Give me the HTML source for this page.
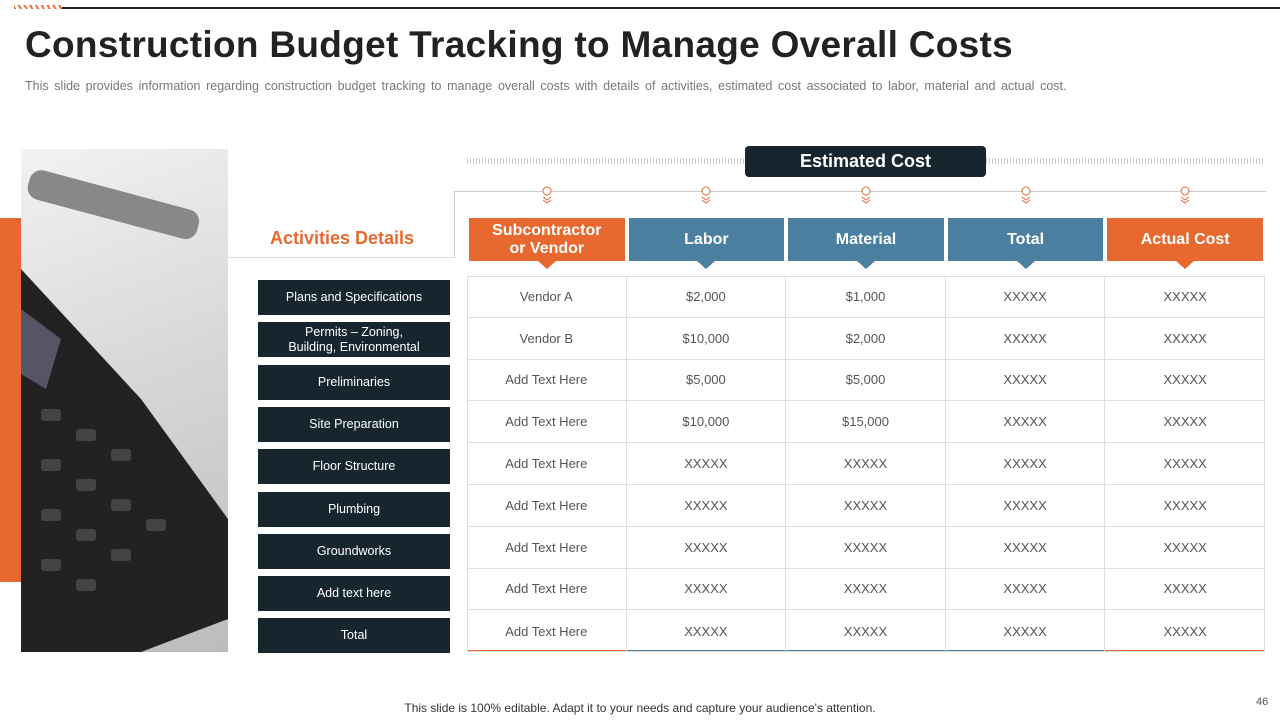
<!DOCTYPE html>
<html><head><meta charset="utf-8"><style>
body{margin:0;width:1280px;height:720px;position:relative;background:#fff;font-family:"Liberation Sans",sans-serif;overflow:hidden}
.abs{position:absolute}
.act{position:absolute;left:258px;width:192px;background:#17252f;color:#fff;font-size:12.5px;display:flex;align-items:center;justify-content:center;text-align:center;line-height:15px}
.hd{position:absolute;top:218px;height:43px;color:#fff;font-weight:bold;font-size:16px;display:flex;align-items:center;justify-content:center;text-align:center;line-height:18px}
.tri{position:absolute;top:261px;width:0;height:0;border-left:9px solid transparent;border-right:9px solid transparent;border-top:8px solid}
.cell{position:absolute;font-size:13px;color:#555;display:flex;align-items:center;justify-content:center}
</style></head><body>
<div class="abs" style="left:60px;top:7px;width:1220px;height:2px;background:#17252f"></div>
<div class="abs" style="left:14px;top:5px;width:48px;height:4px;background:repeating-linear-gradient(60deg,#e8743a 0 2px,#fff 2px 5px)"></div>
<div class="abs" style="left:25px;top:24px;font-size:37px;font-weight:bold;color:#222;letter-spacing:0.3px">Construction Budget Tracking to Manage Overall Costs</div>
<div class="abs" style="left:25px;top:79px;font-size:12.5px;color:#777;word-spacing:2.2px">This slide provides information regarding construction budget tracking to manage overall costs with details of activities, estimated cost associated to labor, material and actual cost.</div>

<div class="abs" style="left:0;top:218px;width:21px;height:364px;background:#e8692f"></div>
<div class="abs" style="left:21px;top:149px;width:207px;height:503px;background:linear-gradient(160deg,#f2f2f2 0%,#d8d8d8 45%,#bcbcbc 100%);overflow:hidden">
<svg width="207" height="503"><rect x="5" y="40" width="175" height="30" rx="12" fill="#888" transform="rotate(15 90 55)"/><path d="M0 120 L120 250 L207 370 L207 470 L120 503 L0 503 Z" fill="#222"/><path d="M0 160 L40 190 L25 240 L0 225Z" fill="#556"/>
<g fill="#444"><rect x="20" y="260" width="20" height="12" rx="3"/><rect x="55" y="280" width="20" height="12" rx="3"/><rect x="90" y="300" width="20" height="12" rx="3"/><rect x="20" y="310" width="20" height="12" rx="3"/><rect x="55" y="330" width="20" height="12" rx="3"/><rect x="90" y="350" width="20" height="12" rx="3"/><rect x="125" y="370" width="20" height="12" rx="3"/><rect x="20" y="360" width="20" height="12" rx="3"/><rect x="55" y="380" width="20" height="12" rx="3"/><rect x="90" y="400" width="20" height="12" rx="3"/><rect x="20" y="410" width="20" height="12" rx="3"/><rect x="55" y="430" width="20" height="12" rx="3"/></g></svg></div>

<div class="abs" style="left:228px;top:228px;width:228px;text-align:center;font-size:18px;font-weight:bold;color:#e8692f">Activities Details</div>
<div class="abs" style="left:228px;top:257px;width:226px;height:1px;background:#ddd"></div>
<div class="abs" style="left:454px;top:191px;width:811px;height:66px;border-left:1px solid #ccc;border-top:1px solid #ccc"></div>
<div class="abs" style="left:467px;top:158px;width:798px;height:6px;background:repeating-linear-gradient(90deg,#ccc 0 1px,transparent 1px 3px)"></div>
<div class="abs" style="left:745px;top:146px;width:241px;height:31px;background:#17252f;border-radius:4px;color:#fff;font-weight:bold;font-size:18px;display:flex;align-items:center;justify-content:center">Estimated Cost</div>

<div id="acts"></div><div id="tbl"></div>
<div class="abs" style="left:0;width:1280px;top:701px;text-align:center;font-size:12px;color:#333">This slide is 100% editable. Adapt it to your needs and capture your audience's attention.</div>
<div class="abs" style="left:1256px;top:696px;font-size:11px;color:#555">46</div>
<script>
const activities=["Plans and Specifications","Permits – Zoning,<br>Building, Environmental","Preliminaries","Site Preparation","Floor Structure","Plumbing","Groundworks","Add text here","Total"];
const headers=["Subcontractor<br>or Vendor","Labor","Material","Total","Actual Cost"];
const hcolors=["#e8692f","#4a7fa0","#4a7fa0","#4a7fa0","#e8692f"];
const vendor=["Vendor A","Vendor B","Add Text Here","Add Text Here","Add Text Here","Add Text Here","Add Text Here","Add Text Here","Add Text Here"];
const labor=["$2,000","$10,000","$5,000","$10,000","XXXXX","XXXXX","XXXXX","XXXXX","XXXXX"];
const material=["$1,000","$2,000","$5,000","$15,000","XXXXX","XXXXX","XXXXX","XXXXX","XXXXX"];
const total=["XXXXX","XXXXX","XXXXX","XXXXX","XXXXX","XXXXX","XXXXX","XXXXX","XXXXX"];
const actual=["XXXXX","XXXXX","XXXXX","XXXXX","XXXXX","XXXXX","XXXXX","XXXXX","XXXXX"];
const cols=[vendor,labor,material,total,actual];
const X0=467,CW=159.6,Y0=276,RH=41.8;
const A=document.getElementById('acts'),T=document.getElementById('tbl');
activities.forEach((a,i)=>{const d=document.createElement('div');d.className='act';


d.style.top=(280+i*42.3)+'px';d.style.height='35px';d.innerHTML=a;A.appendChild(d);});
headers.forEach((h,c)=>{const x=X0+c*CW;const d=document.createElement('div');d.className='hd';


d.style.left=(x+2)+'px';d.style.width=(CW-4)+'px';d.style.background=hcolors[c];d.innerHTML=h;T.appendChild(d);
const t=document.createElement('div');t.className='tri';t.style.left=(x+CW/2-9)+'px';t.style.borderTopColor=hcolors[c];T.appendChild(t);
const ic=document.createElement('div');ic.className='abs';


ic.style.left=(x+CW/2-5)+'px';ic.style.top='186px';ic.innerHTML='<svg width="10" height="18"><circle cx="5" cy="5" r="4" fill="#fff" stroke="#e8692f"/><path d="M1 11 L5 14 L9 11 M1 14 L5 17 L9 14" stroke="#e8692f" fill="none"/></svg>';T.appendChild(ic);
const ul=document.createElement('div');ul.className='abs';ul.style.cssText=`left:${x}px;top:650px;width:${CW}px;height:2px;background:${hcolors[c]}`;T.appendChild(ul);});
const frame=document.createElement('div');frame.className='abs';


frame.style.cssText=`left:${X0}px;top:${Y0}px;width:${CW*5}px;height:${RH*9}px;border:1px solid #ddd;box-sizing:border-box`;T.appendChild(frame);
for(let r=0;r<9;r++)for(let c=0;c<5;c++){const d=document.createElement('div');d.className='cell';


d.style.cssText=`left:${X0+c*CW}px;top:${Y0+r*RH}px;width:${CW}px;height:${RH}px;box-sizing:border-box;border-right:${c<4?'1px solid #ddd':'0'};border-bottom:${r<8?'1px solid #ddd':'0'}`;
d.textContent=cols[c][r];T.appendChild(d);}
</script>
</body></html>
